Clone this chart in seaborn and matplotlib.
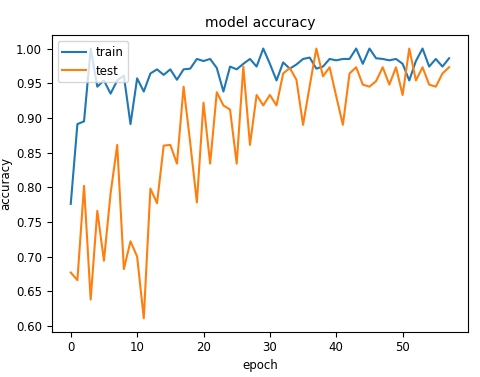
import matplotlib
matplotlib.use("Agg")
import matplotlib.pyplot as plt
import seaborn as sns
import numpy as np
import pandas as pd

# accuracy per epoch
epochs = list(range(58))
train_acc = [0.776, 0.891, 0.895, 1.000, 0.945, 0.954, 0.935, 0.954, 0.961, 0.891,
             0.957, 0.938, 0.964, 0.970, 0.962, 0.970, 0.955, 0.970, 0.971, 0.985,
             0.982, 0.985, 0.972, 0.938, 0.974, 0.970, 0.978, 0.985, 0.974, 1.000,
             0.978, 0.954, 0.980, 0.971, 0.977, 0.985, 0.987, 0.971, 0.974, 0.985,
             0.983, 0.985, 0.985, 1.000, 0.978, 1.000, 0.986, 0.985, 0.983, 0.985,
             0.978, 0.954, 0.982, 1.000, 0.974, 0.985, 0.974, 0.986]
test_acc = [0.677, 0.666, 0.802, 0.638, 0.766, 0.694, 0.791, 0.861, 0.682, 0.722,
            0.700, 0.611, 0.798, 0.777, 0.860, 0.861, 0.834, 0.945, 0.864, 0.778,
            0.922, 0.834, 0.937, 0.918, 0.912, 0.834, 0.974, 0.861, 0.933, 0.918,
            0.933, 0.918, 0.964, 0.972, 0.955, 0.890, 0.946, 1.000, 0.960, 0.973,
            0.931, 0.890, 0.964, 0.973, 0.948, 0.945, 0.953, 0.973, 0.948, 0.973,
            0.933, 1.000, 0.954, 0.973, 0.948, 0.945, 0.964, 0.973]

df = pd.DataFrame({"epoch": epochs, "train": train_acc, "test": test_acc})

plt.rcParams["font.size"] = 8.5

fig, ax = plt.subplots(figsize=(4.8, 3.77), dpi=100)
fig.subplots_adjust(left=0.108, right=0.975, bottom=0.12, top=0.907)

sns.lineplot(data=df, x="epoch", y="train", ax=ax, color="#1f77b4", linewidth=1.5, label="train")
sns.lineplot(data=df, x="epoch", y="test", ax=ax, color="#ff7f0e", linewidth=1.5, label="test")

ax.set_title("model accuracy", fontsize=10)
ax.set_xlabel("epoch", labelpad=3)
ax.set_ylabel("accuracy", labelpad=2.5)
ax.set_xticks([0, 10, 20, 30, 40, 50])
ax.legend(loc="upper left")

plt.savefig("out.png", dpi=100)
